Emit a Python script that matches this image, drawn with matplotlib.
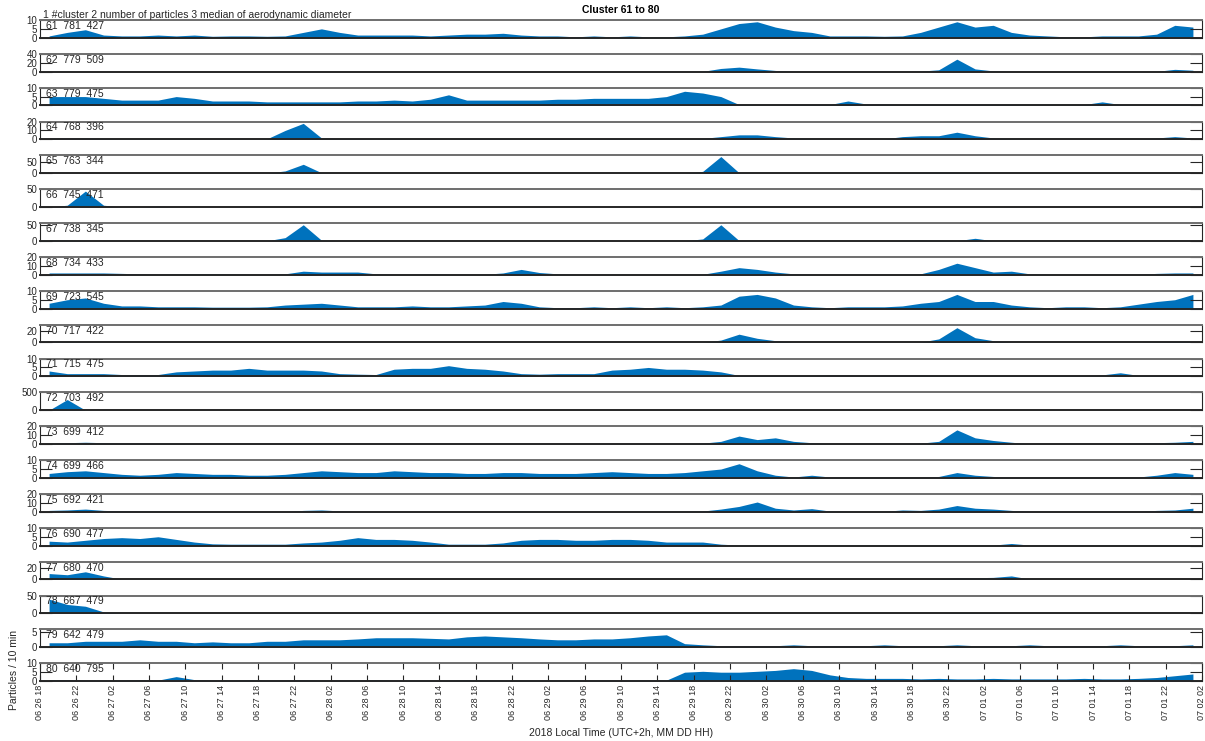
import matplotlib
matplotlib.use('Agg')
import matplotlib.pyplot as plt
import pandas as pd

plt.rcParams['font.family'] = ['Liberation Sans', 'DejaVu Sans']

# ---------------- data ----------------
cluster_ids = [61, 62, 63, 64, 65, 66, 67, 68, 69, 70, 71, 72, 73, 74, 75, 76, 77, 78, 79, 80]
n_particles = [781, 779, 779, 768, 763, 745, 738, 734, 723, 717, 715, 703, 699, 699, 692, 690, 680, 667, 642, 640]
median_diam = [427, 509, 475, 396, 344, 471, 345, 433, 545, 422, 475, 492, 412, 466, 421, 477, 470, 479, 479, 795]
y_max = [10, 40, 10, 20, 80, 50, 55, 20, 10, 30, 10, 500, 20, 10, 20, 10, 30, 50, 6, 10]
y_ticks = [[0, 5, 10], [0, 20, 40], [0, 5, 10], [0, 10, 20], [0, 50], [0, 50], [0, 50], [0, 10, 20],
           [0, 5, 10], [0, 20], [0, 5, 10], [0, 500], [0, 10, 20], [0, 5, 10], [0, 10, 20], [0, 5, 10],
           [0, 20], [0, 50], [0, 5], [0, 5, 10]]

# 2-hour bins starting 2018-06-26 18:00 (values in particles / 10 min)
c61 = [1, 3, 4.5, 1.5, 1, 1, 1.5, 1,
       1.5, 0.8, 1, 1, 0.8, 1, 3, 5,
       3, 1.5, 1.5, 1.5, 1.5, 1, 1.5, 2,
       2, 2.5, 1.5, 1, 1, 0.5, 1, 0.5,
       1, 0.5, 0.5, 1, 2, 5, 8, 9,
       6, 4, 3, 1, 1, 1, 0.8, 1,
       3, 6, 9, 6, 7, 3, 1.5, 1,
       0.5, 0.5, 1, 1, 1, 2, 7, 6]
c62 = [0.3, 0.5, 0.3, 0.2, 0.2, 0.2, 0.2, 0.2,
       0.2, 0.2, 0.2, 0.2, 0.2, 0.2, 0.2, 0.2,
       0.2, 0.2, 0.2, 0.2, 0.2, 0.2, 0.2, 0.2,
       0.2, 0.2, 0.2, 0.2, 0.2, 0.2, 0.2, 0.2,
       0.2, 0.2, 0.2, 0.2, 0.5, 7, 10, 6,
       2.5, 0.5, 0.3, 0.3, 0.3, 0.3, 0.3, 0.3,
       1, 4, 28, 6, 1.5, 0.3, 0.3, 0.2,
       0.2, 0.2, 0.2, 0.2, 0.2, 0.5, 5, 3]
c63 = [5, 5, 5, 4, 3, 3, 3, 5,
       4, 2.5, 2.5, 2.5, 2, 2, 2, 2,
       2, 2.5, 2.5, 3, 2.5, 3.5, 6, 3,
       3, 3, 3, 3, 3.5, 3.5, 4, 4,
       4, 4, 5, 8, 7, 5, 0.5, 0.3,
       0.3, 0.5, 0.5, 0.5, 2.5, 0.8, 0.8, 0.5,
       0.8, 0.5, 0.5, 0.5, 0.5, 0.5, 0.3, 0.3,
       0.3, 0.5, 2, 0.5, 0.3, 0.3, 0.5, 0.8]
c64 = [1.5, 1.5, 1.5, 1, 0.5, 0.5, 0.5, 0.5,
       0.5, 0.3, 0.5, 0.3, 0.5, 10, 18, 1.5,
       1, 1, 0.5, 1, 0.5, 1, 0.5, 1,
       1, 1, 0.5, 0.5, 1, 0.5, 0.5, 1,
       0.5, 0.5, 0.5, 0.5, 1, 3, 5, 5,
       3, 1.5, 0.5, 0.3, 0.3, 0.3, 0.5, 3,
       4, 4, 8, 4, 1.5, 0.5, 0.3, 0.3,
       0.3, 0.3, 0.3, 0.3, 0.5, 1.5, 3, 1.5]
c65 = [0.2, 0.2, 0.2, 0.2, 0.2, 0.2, 0.2, 0.2,
       0.2, 0.2, 0.2, 0.2, 0.2, 10, 40, 2,
       0.2, 0.2, 0.2, 0.2, 0.2, 0.2, 0.2, 0.2,
       0.2, 0.2, 0.2, 0.2, 0.2, 0.2, 0.2, 0.2,
       0.2, 0.2, 0.2, 0.2, 8, 75, 2, 0.2,
       0.2, 0.2, 0.2, 0.2, 0.2, 0.2, 0.2, 3,
       4, 5, 4, 3, 0.2, 0.2, 0.2, 0.2,
       0.2, 0.2, 0.2, 0.2, 0.2, 0.2, 0.2, 0.2]
c66 = [0.3, 5, 45, 5, 0.3, 0.3, 3, 0.2,
       0.2, 0.2, 0.2, 0.2, 0.2, 0.2, 0.2, 0.2,
       0.2, 0.2, 1, 0.2, 0.2, 0.2, 0.2, 0.2,
       0.2, 0.2, 0.2, 1, 0.2, 0.2, 0.2, 0.2,
       0.2, 0.2, 0.2, 0.2, 0.2, 0.2, 1, 0.2,
       0.2, 0.2, 0.2, 0.2, 0.2, 0.2, 0.2, 0.2,
       0.2, 0.2, 0.2, 0.2, 0.2, 1, 0.2, 0.2,
       0.2, 0.2, 0.2, 0.2, 0.2, 0.2, 0.2, 0.2]
c67 = [3, 2, 0.3, 0.2, 0.2, 0.2, 0.2, 0.2,
       0.2, 0.2, 0.2, 0.2, 0.2, 10, 50, 2,
       0.2, 0.2, 0.2, 0.2, 0.2, 0.2, 0.2, 0.2,
       0.2, 0.2, 0.2, 0.2, 0.2, 0.2, 0.2, 0.2,
       0.2, 0.2, 0.2, 0.2, 6, 50, 1, 0.2,
       0.2, 0.2, 0.2, 0.2, 0.2, 0.2, 0.2, 2,
       3, 2, 0.3, 8, 0.2, 0.2, 0.2, 0.2,
       0.2, 0.2, 0.2, 1, 0.2, 0.2, 0.2, 0.2]
c68 = [2, 2, 2, 2, 1.5, 1, 0.5, 1,
       1, 1, 0.8, 0.5, 0.5, 1, 4, 3,
       3, 3, 1, 0.5, 0.5, 1, 0.5, 0.5,
       0.5, 2, 6, 2.5, 1, 0.5, 0.5, 0.5,
       0.5, 0.5, 0.5, 0.5, 0.5, 4, 8, 6,
       3, 1, 0.5, 0.5, 0.5, 0.5, 0.5, 0.5,
       1, 6, 13, 8, 3, 4, 1, 0.5,
       0.5, 0.5, 0.5, 0.5, 0.5, 1.5, 2, 2]
c69 = [3, 5, 6, 3, 1.5, 1.5, 1, 1,
       1, 0.8, 0.8, 0.8, 1, 2, 2.5, 3,
       2, 1, 1, 1, 1.5, 1, 1, 1.5,
       2, 4, 3, 1, 0.5, 0.5, 1, 0.5,
       1, 0.5, 1, 0.5, 1, 2, 7, 8,
       6, 2, 1, 0.5, 1, 1, 1, 1.5,
       3, 4, 8, 4, 4, 2, 1, 0.5,
       1, 1, 0.5, 1, 2.5, 4, 5, 8]
c70 = [0.5, 1, 0.5, 0.2, 0.2, 0.2, 0.2, 0.2,
       0.2, 0.2, 0.2, 0.2, 0.2, 0.2, 0.2, 0.2,
       0.2, 0.2, 0.2, 0.2, 0.2, 0.2, 0.2, 0.2,
       0.2, 0.2, 0.2, 0.2, 0.2, 0.2, 0.2, 0.2,
       0.2, 0.2, 0.2, 0.2, 0.2, 4, 14, 7,
       3, 0.5, 0.2, 0.2, 0.2, 0.2, 0.2, 0.2,
       0.5, 6, 25, 8, 3, 0.3, 0.2, 0.2,
       0.2, 0.2, 0.2, 0.2, 0.2, 1, 1.5, 1.5]
c71 = [3, 1.5, 1.5, 1.5, 1, 1, 1, 2.5,
       3, 3.5, 3.5, 4.5, 3.5, 3.5, 3.5, 3,
       1.5, 1.2, 1, 4, 4.5, 4.5, 6, 4.5,
       4, 3, 1.5, 1.2, 1.5, 1.5, 1.5, 3.5,
       4, 5, 4, 4, 3.5, 2.5, 0.5, 0.5,
       0.5, 0.5, 0.5, 0.8, 0.8, 0.5, 0.8, 0.8,
       0.8, 0.5, 0.5, 0.5, 0.5, 0.5, 0.5, 0.5,
       0.5, 0.5, 0.8, 2, 0.5, 0.5, 0.5, 0.5]
c72 = [0, 300, 0, 0, 0, 0, 0, 0,
       0, 0, 0, 0, 0, 0, 0, 0,
       0, 0, 0, 0, 0, 0, 0, 0,
       0, 0, 0, 0, 0, 0, 0, 0,
       0, 0, 0, 0, 0, 0, 0, 0,
       0, 0, 0, 0, 0, 0, 0, 0,
       0, 0, 0, 0, 0, 0, 0, 0,
       0, 0, 0, 0, 0, 0, 0, 0]
c73 = [1, 1.5, 2, 1.5, 1, 1, 0.8, 0.8,
       0.3, 0.3, 0.3, 0.3, 0.3, 0.3, 0.3, 0.3,
       0.3, 0.3, 0.3, 0.3, 0.3, 0.3, 0.3, 0.3,
       0.3, 0.3, 0.3, 0.3, 0.3, 0.3, 0.3, 0.3,
       0.3, 0.3, 0.3, 0.3, 1, 3, 9, 5,
       7, 3, 1.5, 0.3, 0.3, 0.3, 0.3, 0.3,
       1, 3, 16, 7, 4, 2, 0.3, 0.3,
       0.3, 0.3, 0.3, 0.3, 1, 1.5, 2, 3]
c74 = [2.5, 3.5, 4, 3, 2, 1.5, 2, 3,
       2.5, 2, 2, 1.5, 1.5, 2, 3, 4,
       3.5, 3, 3, 4, 3.5, 3, 3, 2.5,
       2.5, 3, 3, 2.5, 2.5, 2.5, 3, 3.5,
       3, 2.5, 2.5, 3, 4, 5, 8, 4,
       1.5, 0.5, 1.5, 0.5, 0.5, 0.5, 0.5, 0.5,
       0.5, 0.8, 3, 1.5, 0.8, 0.5, 0.5, 0.5,
       0.5, 0.5, 0.5, 0.5, 0.5, 1.5, 3, 2]
c75 = [1.5, 2, 3, 1.5, 1, 0.8, 0.8, 0.5,
       0.3, 0.3, 0.3, 0.3, 0.3, 0.3, 1.5, 2,
       1, 0.3, 0.3, 0.3, 0.3, 0.3, 0.3, 0.3,
       0.3, 0.3, 0.8, 0.5, 0.5, 0.5, 0.5, 0.5,
       0.5, 0.5, 0.5, 0.5, 0.8, 3, 6, 11,
       4, 2, 3.5, 0.8, 0.5, 0.5, 0.5, 2,
       1.5, 3, 7, 4, 3, 1.5, 0.5, 0.5,
       0.5, 0.5, 0.5, 0.5, 0.5, 1.5, 2, 4]
c76 = [2.5, 2, 3, 4, 4.5, 4, 5, 3.5,
       2, 1, 0.8, 0.8, 0.8, 0.8, 1.5, 2,
       3, 4.5, 3.5, 3.5, 3, 2, 0.8, 0.8,
       0.8, 1.5, 3, 3.5, 3.5, 3, 3, 3.5,
       3.5, 3, 2, 2, 2, 0.8, 0.3, 0.3,
       0.3, 0.3, 0.3, 0.3, 0.3, 0.3, 0.3, 0.3,
       0.3, 0.3, 0.3, 0.3, 0.3, 1.2, 0.3, 0.3,
       0.3, 0.3, 0.3, 0.3, 0.3, 0.3, 0.3, 0.3]
c77 = [10, 8, 13, 6, 0.5, 0.2, 0.2, 0.2,
       0.2, 0.2, 0.2, 0.2, 0.2, 0.2, 0.2, 0.2,
       2, 1.5, 0.2, 0.2, 0.2, 0.2, 0.2, 0.2,
       0.2, 0.2, 1, 0.2, 0.2, 0.2, 0.2, 0.2,
       0.2, 0.2, 0.2, 0.2, 0.2, 0.2, 0.8, 0.8,
       0.2, 0.2, 0.2, 0.2, 0.2, 0.2, 0.2, 0.2,
       0.2, 1, 3, 3, 3.5, 6, 0.8, 0.2,
       0.2, 0.2, 0.2, 0.2, 0.2, 0.2, 0.2, 0.2]
c78 = [40, 25, 20, 4, 0.2, 0.2, 0.2, 0.2,
       0.2, 0.2, 0.2, 0.2, 0.2, 0.2, 0.2, 0.2,
       0.2, 0.2, 0.2, 0.2, 0.2, 2, 0.2, 0.2,
       0.2, 0.2, 0.2, 0.2, 0.2, 0.2, 0.2, 0.2,
       0.2, 0.2, 0.2, 0.2, 0.2, 0.2, 0.2, 0.2,
       0.2, 0.2, 0.2, 0.2, 0.2, 0.2, 0.2, 0.2,
       0.2, 0.2, 2, 2, 1.5, 0.2, 0.2, 0.2,
       0.2, 0.2, 0.2, 0.2, 0.2, 0.2, 0.2, 0.2]
c79 = [1.5, 1.5, 2, 2, 2, 2.5, 2, 2,
       1.5, 1.8, 1.5, 1.5, 2, 2, 2.5, 2.5,
       2.5, 2.8, 3.2, 3.2, 3.2, 3, 2.8, 3.5,
       3.8, 3.5, 3.2, 2.8, 2.5, 2.5, 2.8, 2.8,
       3.2, 3.8, 4.2, 1.2, 0.8, 0.5, 0.5, 0.5,
       0.5, 0.8, 0.5, 0.5, 0.5, 0.5, 0.8, 0.5,
       0.5, 0.5, 0.8, 0.5, 0.5, 0.5, 0.8, 0.5,
       0.5, 0.5, 0.5, 0.8, 0.5, 0.5, 0.5, 0.8]
c80 = [0.8, 0.8, 0.5, 0.5, 0.5, 0.8, 0.5, 2.5,
       0.8, 0.5, 0.5, 0.8, 0.5, 0.5, 0.8, 0.5,
       0.5, 0.5, 0.8, 0.5, 0.5, 0.5, 0.5, 0.8,
       0.5, 0.5, 0.5, 0.5, 0.5, 0.5, 0.5, 0.5,
       0.5, 0.5, 0.5, 5, 5.5, 5, 5, 5.5,
       6, 7, 6, 3.5, 2, 1.5, 1.5, 1.5,
       1.2, 1.5, 1.2, 1.2, 1.5, 1.2, 1.2, 1.2,
       1.2, 1.5, 1.2, 1.2, 1.5, 2, 3, 4]

series = [c61, c62, c63, c64, c65, c66, c67, c68, c69, c70,
          c71, c72, c73, c74, c75, c76, c77, c78, c79, c80]

times = pd.date_range('2018-06-26 19:00', periods=64, freq='2h').to_pydatetime()
t_start = pd.Timestamp('2018-06-26 18:00').to_pydatetime()
t_end = pd.Timestamp('2018-07-02 02:00').to_pydatetime()
tick_times = pd.date_range('2018-06-26 18:00', '2018-07-02 02:00', freq='4h')
tick_labels = list(tick_times.strftime('%m %d %H'))
tick_times = tick_times.to_pydatetime()

# ---------------- figure ----------------
W, H = 1205, 741
fig = plt.figure(figsize=(W / 100, H / 100), dpi=100)

left_px, right_px = 40, 1202
ax_h_px = 17.7
pitch = 33.86
first_bottom = 37.7
blue = '#0072BD'
dark = '#262626'

for k, vals in enumerate(series):
    bottom_px = first_bottom + pitch * k
    ax = fig.add_axes([left_px / W, 1 - bottom_px / H, (right_px - left_px) / W, ax_h_px / H])
    ax.fill_between(times, 0, vals, color=blue, linewidth=0)
    ax.set_xlim(t_start, t_end)
    ax.set_ylim(0, y_max[k])
    ax.set_yticks(y_ticks[k])
    ax.tick_params(axis='y', direction='in', left=True, right=True, length=8.5, width=0.8,
                   labelsize=7, pad=2, colors=dark)
    for side in ['left', 'right']:
        ax.spines[side].set_linewidth(0.8)
        ax.spines[side].set_color(dark)
    ax.spines['top'].set_linewidth(1.4)
    ax.spines['top'].set_color('#6e6e6e')
    ax.spines['bottom'].set_linewidth(1.4)
    ax.spines['bottom'].set_color(dark)
    ax.text(0.005, 0.5, f"{cluster_ids[k]}  {n_particles[k]}  {median_diam[k]}",
            transform=ax.transAxes, fontsize=7.5, va='baseline', ha='left', color=dark)
    if k < len(series) - 1:
        ax.set_xticks([])
    else:
        ax.set_xticks(tick_times)
        ax.set_xticklabels(tick_labels, rotation=90, fontsize=6.5, color=dark)
        ax.tick_params(axis='x', direction='in', top=True, bottom=True, length=4, width=0.8,
                       pad=3, colors=dark)

fig.text(621 / W, 1 - 10 / H, 'Cluster 61 to 80', ha='center', va='center',
         fontsize=7.5, fontweight='bold', color='black')
fig.text(43 / W, 1 - 18 / H, '1 #cluster 2 number of particles 3 median of aerodynamic diameter',
         ha='left', va='baseline', fontsize=7.5, color=dark)
fig.text(621 / W, 1 - 733 / H, '2018 Local Time (UTC+2h, MM DD HH)', ha='center', va='center',
         fontsize=7.5, color=dark)
fig.text(14 / W, 1 - 670 / H, 'Particles / 10 min', ha='center', va='center', rotation=90,
         fontsize=7.5, color=dark)

fig.savefig('out.png', dpi=100)
